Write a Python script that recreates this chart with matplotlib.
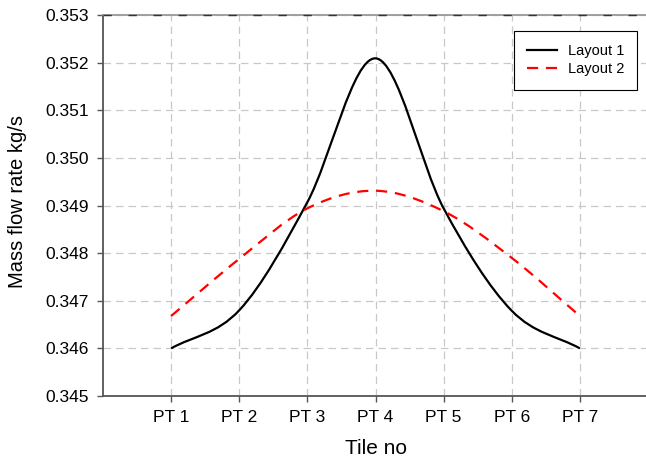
import matplotlib
matplotlib.use("Agg")
import matplotlib.pyplot as plt
import numpy as np
from matplotlib.path import Path
from matplotlib.patches import PathPatch
from matplotlib.lines import Line2D

plt.rcParams['font.family'] = ['Liberation Sans', 'DejaVu Sans']

tiles = ["PT 1", "PT 2", "PT 3", "PT 4", "PT 5", "PT 6", "PT 7"]
layout1 = [0.34600, 0.34680, 0.34907, 0.35209, 0.34894, 0.34679, 0.34600]
layout2 = [0.34668, 0.34788, 0.34894, 0.34931, 0.34888, 0.34790, 0.34668]
y_ticks = [0.345, 0.346, 0.347, 0.348, 0.349, 0.350, 0.351, 0.352, 0.353]


def smooth_path(x, y):
    """Catmull-Rom curve through the points, drawn as cubic Bezier segments."""
    x = np.asarray(x, float)
    y = np.asarray(y, float)
    pts = np.column_stack([x, y])
    ext = np.vstack([2 * pts[0] - pts[1], pts, 2 * pts[-1] - pts[-2]])
    verts = [pts[0]]
    codes = [Path.MOVETO]
    for i in range(1, len(ext) - 2):
        p0, p1, p2, p3 = ext[i - 1], ext[i], ext[i + 1], ext[i + 2]
        verts += [p1 + (p2 - p0) / 6, p2 - (p3 - p1) / 6, p2]
        codes += [Path.CURVE4] * 3
    return Path(verts, codes)


fig = plt.figure(figsize=(6.46, 4.62), dpi=100)
ax = fig.add_axes([103 / 646, 66 / 462, 1 - 103 / 646, 381 / 462])

x = np.arange(1, len(tiles) + 1)
ax.add_patch(PathPatch(smooth_path(x, layout1), fill=False, edgecolor="black",
                       lw=1.6, zorder=3))
ax.add_patch(PathPatch(smooth_path(x, layout2), fill=False, edgecolor="#ff0000",
                       lw=1.6, ls=(0, (5, 3.5)), zorder=3))

ax.set_xlim(0, (646 - 104) / 68)
ax.set_ylim(0.345, 0.353)
ax.set_xticks(x)
ax.set_xticklabels(tiles)
ax.set_yticks(y_ticks)
ax.set_yticklabels([f"{v:.3f}" for v in y_ticks])
ax.tick_params(direction="out", length=4, width=1, color="#555555",
               labelsize=12.5, pad=6)

ax.grid(True, color="#c8c8c8", ls=(0, (6, 4)), lw=0.9)
ax.set_axisbelow(True)
ax.axhline(0.353, color="#333333", ls=(0, (6, 12)), lw=1.0, zorder=4, clip_on=False)

for side in ["left", "bottom"]:
    ax.spines[side].set_color("#555555")
    ax.spines[side].set_linewidth(1.3)
ax.spines["top"].set_color("#999999")
ax.spines["top"].set_linewidth(1.3)
ax.spines["right"].set_visible(False)

ax.set_xlabel("Tile no", fontsize=15, va="center")
ax.set_ylabel("Mass flow rate kg/s", fontsize=14.5, va="center")
ax.xaxis.set_label_coords((376 - 103) / 543, (396 - 448) / 381)
ax.yaxis.set_label_coords((18 - 103) / 543, (396 - 202) / 381)

handles = [Line2D([], [], color="black", lw=1.6),
           Line2D([], [], color="#ff0000", lw=1.6, ls=(0, (5, 3.5)))]
leg = ax.legend(handles, ["Layout 1", "Layout 2"], loc="upper right",
                bbox_to_anchor=(637 / 646, (462 - 31) / 462),
                bbox_transform=fig.transFigure, fontsize=10.5, fancybox=False,
                framealpha=1, edgecolor="black", handlelength=2.1,
                handletextpad=0.7, borderpad=0.9, labelspacing=0.3,
                borderaxespad=0)
leg.get_frame().set_linewidth(0.8)

fig.savefig("out.png", dpi=100)
plt.close(fig)
